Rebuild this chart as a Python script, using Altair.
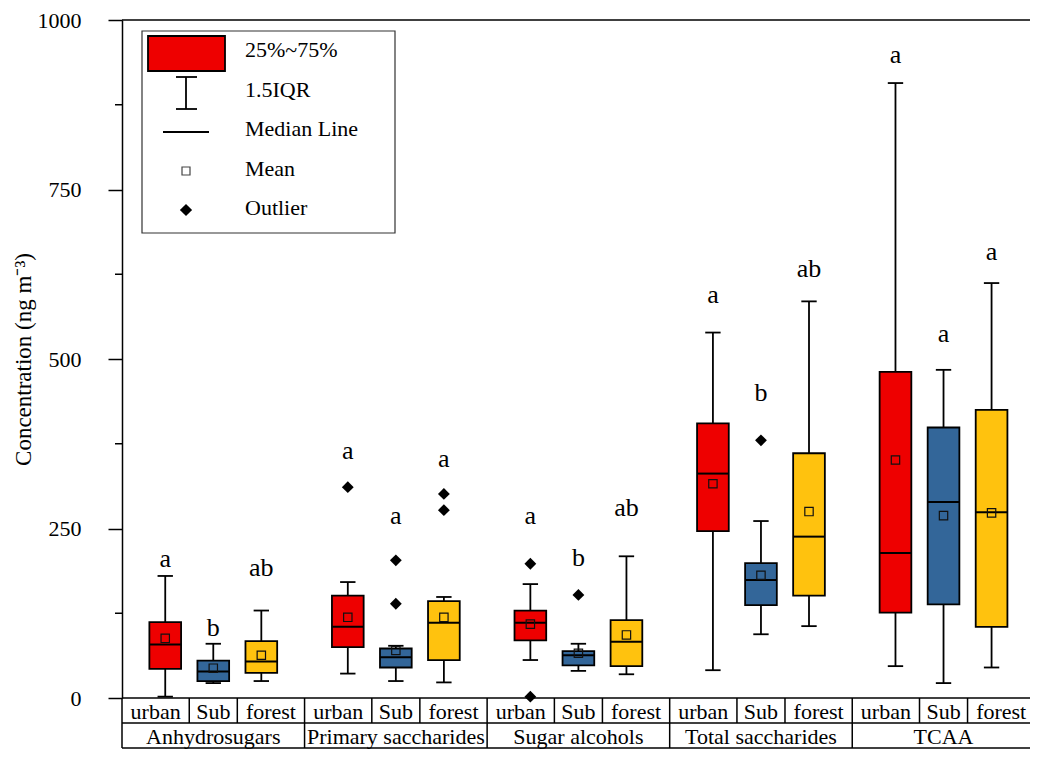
import altair as alt
import pandas as pd

SERIF = "Times New Roman, Liberation Serif, serif"

groups = ["Anhydrosugars", "Primary saccharides", "Sugar alcohols", "Total saccharides", "TCAA"]
sites = ["urban", "Sub", "forest"]
site_colors = ["#EE0000", "#336699", "#FFC20E"]

# one value per box, group-major order (urban, Sub, forest for each group)
whisker_low = [2, 22, 25, 36, 25, 23, 56, 40, 35, 41, 94, 106, 47, 22, 45]
q1 = [43, 25, 37, 75, 45, 56, 85, 48, 47, 246, 137, 151, 126, 138, 105]
median = [79, 39, 54, 105, 60, 111, 111, 63, 83, 331, 174, 238, 214, 289, 274]
q3 = [112, 55, 84, 151, 73, 143, 129, 69, 115, 405, 199, 361, 481, 399, 425]
whisker_high = [180, 80, 129, 171, 77, 149, 168, 80, 209, 539, 261, 585, 907, 484, 612]
mean = [88, 44, 63, 119, 70, 119, 109, 66, 93, 316, 181, 275, 351, 269, 273]
letters = ["a", "b", "ab", "a", "a", "a", "a", "b", "ab", "a", "b", "ab", "a", "a", "a"]
letter_y = [205, 103, 192, 365, 268, 352, 268, 207, 280, 595, 450, 633, 948, 537, 658]

outlier_group = [1, 1, 1, 1, 1, 2, 2, 2, 3]
outlier_site = [0, 1, 1, 2, 2, 0, 0, 1, 1]
outlier_value = [311, 203, 139, 301, 277, 198, 2, 152, 380]

y_ticks = [0, 250, 500, 750, 1000]
minor_ticks = [125, 375, 625, 875]
legend_labels = ["25%~75%", "1.5IQR", "Median Line", "Mean", "Outlier"]

W, H = 908, 678
GSTEP = 3.8
BOXH = 0.33
CAPH = 0.16

rows = []
for gi, g in enumerate(groups):
    for si, s in enumerate(sites):
        k = gi * 3 + si
        slot = gi * GSTEP + si
        rows.append(dict(group=g, site=s, slot=slot, xl=slot - BOXH, xr=slot + BOXH,
                         cl=slot - CAPH, cr=slot + CAPH,
                         wlo=whisker_low[k], q1=q1[k], med=median[k], q3=q3[k],
                         whi=whisker_high[k], mean=mean[k], letter=letters[k], ly=letter_y[k]))
box = pd.DataFrame(rows)

out = pd.DataFrame(dict(slot=[g * GSTEP + s for g, s in zip(outlier_group, outlier_site)],
                        value=outlier_value))

xs = alt.Scale(domain=[-0.9, 18.0], nice=False, zero=False)
ys = alt.Scale(domain=[0, 1000], nice=False, zero=True)

yaxis = alt.Axis(values=y_ticks, format="d", tickSize=14, tickWidth=1.5, tickColor="black",
                 domainColor="black", domainWidth=1.5, labelFont=SERIF, labelFontSize=22,
                 labelColor="black", labelPadding=27, labelFlush=False, labelOverlap=False,
                 title="Concentration (ng m\u207b\u00b3)", titleFont=SERIF, titleFontSize=23,
                 titleFontWeight="normal", titleColor="black", titlePadding=2, grid=False)


def X(f):
    return alt.X(f, type="quantitative", scale=xs, axis=None)


def Y(f):
    return alt.Y(f, type="quantitative", scale=ys, axis=yaxis)


base = alt.Chart(box)

whisk = base.mark_rule(color="black", strokeWidth=1.8).encode(
    x=X("slot"), y=Y("wlo"), y2="whi:Q")
cap_lo = base.mark_rule(color="black", strokeWidth=1.8).encode(x=X("cl"), x2="cr:Q", y=Y("wlo"))
cap_hi = base.mark_rule(color="black", strokeWidth=1.8).encode(x=X("cl"), x2="cr:Q", y=Y("whi"))
boxes = base.mark_rect(stroke="black", strokeWidth=1.8).encode(
    x=X("xl"), x2="xr:Q", y=Y("q1"), y2="q3:Q",
    fill=alt.Fill("site:N", scale=alt.Scale(domain=sites, range=site_colors), legend=None))
med = base.mark_rule(color="black", strokeWidth=2).encode(x=X("xl"), x2="xr:Q", y=Y("med"))
means = base.mark_point(shape="square", filled=False, size=70, color="#111", strokeWidth=1.2,
                        opacity=1).encode(x=X("slot"), y=Y("mean"))
outs = alt.Chart(out).mark_point(shape="diamond", filled=True, size=140, color="black",
                                 opacity=1).encode(x=X("slot"), y=Y("value"))
lets = base.mark_text(font=SERIF, fontSize=26, baseline="middle", color="black").encode(
    x=X("slot"), y=Y("ly"), text="letter:N")

one = alt.Chart(pd.DataFrame({"k": [0]}))
top_border = one.mark_rule(color="black", strokeWidth=1.5).encode(
    x=alt.value(0), x2=alt.value(W), y=alt.value(0))
bottom_axis = one.mark_rule(color="black", strokeWidth=1.5).encode(
    x=alt.value(0), x2=alt.value(W), y=alt.value(H))
row1_line = one.mark_rule(color="black", strokeWidth=1.5).encode(
    x=alt.value(0), x2=alt.value(W), y=alt.value(H + 25))
row2_line = one.mark_rule(color="black", strokeWidth=1.5).encode(
    x=alt.value(0), x2=alt.value(W), y=alt.value(H + 50))

minor = alt.Chart(pd.DataFrame({"v": minor_ticks})).mark_rule(color="black", strokeWidth=1.5).encode(
    x=alt.value(-7), x2=alt.value(0), y=Y("v"))

gsep = alt.Chart(pd.DataFrame({"xb": [gi * GSTEP - 0.9 for gi in range(len(groups))]})).mark_rule(
    color="black", strokeWidth=1.5).encode(x=X("xb"), y=alt.value(H), y2=alt.value(H + 50))
ssep = alt.Chart(pd.DataFrame({"xb": [gi * GSTEP + o for gi in range(len(groups)) for o in (0.5, 1.5)]})).mark_rule(
    color="black", strokeWidth=1.5).encode(x=X("xb"), y=alt.value(H), y2=alt.value(H + 25))

site_off = [-0.2, 1.0, 2.2]
site_lab = pd.DataFrame([dict(xc=gi * GSTEP + site_off[si], t=s)
                         for gi in range(len(groups)) for si, s in enumerate(sites)])
group_lab = pd.DataFrame([dict(xc=gi * GSTEP + 1.0, t=g) for gi, g in enumerate(groups)])
site_text = alt.Chart(site_lab).mark_text(font=SERIF, fontSize=22, baseline="alphabetic",
                                          color="black").encode(x=X("xc"), y=alt.value(H + 21), text="t:N")
group_text = alt.Chart(group_lab).mark_text(font=SERIF, fontSize=22, baseline="alphabetic",
                                            color="black").encode(x=X("xc"), y=alt.value(H + 46), text="t:N")

# legend (drawn as a framed key)
leg_frame = one.mark_rect(fill="white", stroke="#333", strokeWidth=1.2).encode(
    x=alt.value(20), x2=alt.value(273), y=alt.value(11), y2=alt.value(213))
leg_box = one.mark_rect(fill=site_colors[0], stroke="black", strokeWidth=1.8).encode(
    x=alt.value(26), x2=alt.value(103), y=alt.value(16), y2=alt.value(51))
leg_wv = one.mark_rule(color="black", strokeWidth=1.8).encode(
    x=alt.value(64), y=alt.value(57), y2=alt.value(89))
leg_wc1 = one.mark_rule(color="black", strokeWidth=1.8).encode(
    x=alt.value(54), x2=alt.value(75), y=alt.value(57))
leg_wc2 = one.mark_rule(color="black", strokeWidth=1.8).encode(
    x=alt.value(54), x2=alt.value(75), y=alt.value(89))
leg_med = one.mark_rule(color="black", strokeWidth=1.8).encode(
    x=alt.value(41), x2=alt.value(87), y=alt.value(112))
leg_mean = one.mark_point(shape="square", filled=False, size=64, color="#444", strokeWidth=1.2,
                          opacity=1).encode(x=alt.value(64), y=alt.value(151))
leg_out = one.mark_point(shape="diamond", filled=True, size=150, color="black", opacity=1).encode(
    x=alt.value(64), y=alt.value(190))
leg_df = pd.DataFrame({"label": legend_labels, "i": list(range(len(legend_labels)))})
leg_df["py"] = 30 + 39.5 * leg_df["i"]
leg_text = alt.Chart(leg_df).mark_text(font=SERIF, fontSize=22, align="left", baseline="middle",
                                       color="black").encode(
    x=alt.value(123), y=alt.Y("py:Q", scale=None), text="label:N")

chart = alt.layer(
    whisk, cap_lo, cap_hi, boxes, med, means, outs, lets,
    top_border, bottom_axis, row1_line, row2_line, minor, gsep, ssep, site_text, group_text,
    leg_frame, leg_box, leg_wv, leg_wc1, leg_wc2, leg_med, leg_mean, leg_out, leg_text,
).properties(
    width=W, height=H,
    padding={"left": 114, "top": 12, "right": 0, "bottom": 52},
    autosize=alt.AutoSizeParams(type="none"),
    background="white",
).configure_view(stroke=None)

chart.save("out.html", embed_options={"renderer": "svg", "actions": False})
